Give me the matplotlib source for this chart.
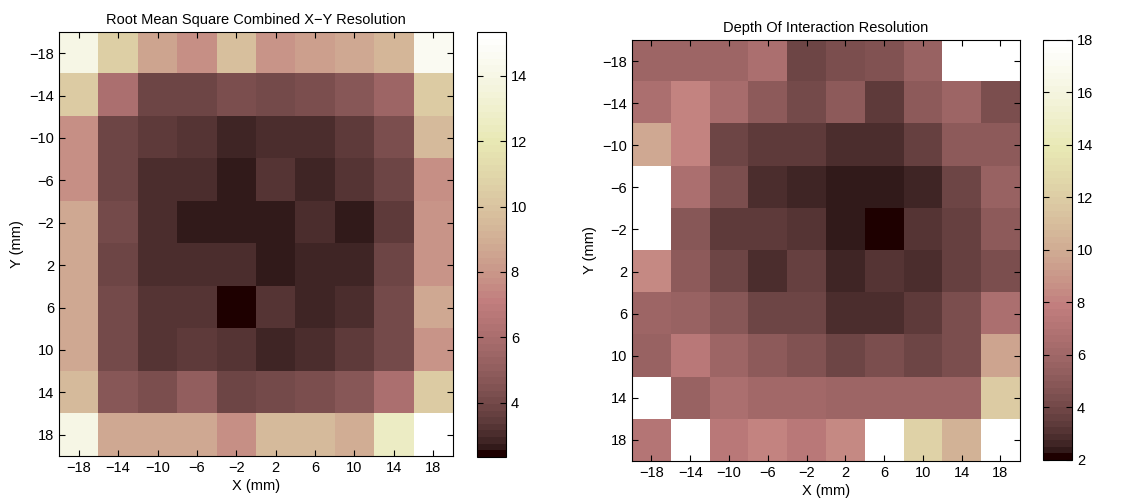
import numpy as np
import matplotlib
matplotlib.use("Agg")
import matplotlib.pyplot as plt

plt.rcParams['font.family'] = ['Liberation Sans', 'DejaVu Sans']
plt.rcParams['font.size'] = 10.5

# grid centres (mm)
x_pos = [-18, -14, -10, -6, -2, 2, 6, 10, 14, 18]
y_pos = [-18, -14, -10, -6, -2, 2, 6, 10, 14, 18]

# RMS combined X-Y resolution, rows = Y (-18 .. 18), cols = X (-18 .. 18)
xy_res = [
    [14.1, 10.5, 8.5, 7.8, 9.8, 8.0, 8.4, 8.7, 9.3, 14.6],
    [10.4, 6.1, 3.97, 3.87, 4.28, 4.07, 4.28, 4.68, 5.49, 10.3],
    [7.7, 3.97, 3.47, 3.26, 2.86, 3.06, 3.06, 3.47, 4.28, 9.6],
    [7.7, 3.87, 3.06, 3.06, 2.65, 3.26, 2.86, 3.26, 3.87, 7.7],
    [8.7, 4.07, 3.06, 2.65, 2.65, 2.65, 3.06, 2.65, 3.47, 7.9],
    [8.8, 3.87, 3.06, 3.06, 3.06, 2.65, 2.86, 2.86, 3.87, 7.9],
    [8.7, 4.07, 3.26, 3.26, 2.35, 3.26, 2.86, 3.06, 4.07, 8.7],
    [8.7, 4.07, 3.26, 3.47, 3.26, 2.86, 3.06, 3.47, 4.07, 7.9],
    [9.6, 4.68, 4.28, 5.09, 3.97, 4.07, 4.28, 4.68, 6.1, 10.3],
    [14.1, 8.7, 8.7, 8.7, 7.7, 9.6, 9.6, 9.0, 12.6, 15.33],
]

# depth of interaction resolution
doi_res = [
    [5.88, 5.88, 5.88, 6.62, 3.88, 4.38, 4.62, 5.62, 18.0, 18.0],
    [6.62, 8.2, 6.38, 5.0, 4.12, 5.12, 3.38, 5.12, 5.75, 4.38],
    [9.8, 8.2, 3.88, 3.38, 3.38, 2.88, 2.88, 3.5, 5.0, 5.0],
    [18.0, 6.62, 4.38, 2.88, 2.62, 2.38, 2.38, 2.62, 3.88, 5.62],
    [18.0, 4.88, 3.38, 3.38, 3.12, 2.38, 2.0, 3.12, 3.5, 5.0],
    [8.45, 5.0, 3.88, 2.88, 3.5, 2.62, 3.12, 2.88, 3.5, 4.38],
    [5.88, 5.62, 4.88, 3.88, 3.88, 2.88, 2.88, 3.38, 4.38, 6.62],
    [5.62, 7.25, 5.75, 5.0, 4.62, 3.88, 4.38, 3.88, 4.38, 9.7],
    [18.0, 5.62, 6.62, 6.12, 6.12, 5.75, 5.75, 5.75, 5.88, 11.9],
    [7.0, 18.0, 7.25, 8.2, 7.25, 8.45, 18.0, 12.3, 10.4, 18.0],
]

cmap = plt.get_cmap('pink').resampled(64)

fig = plt.figure(figsize=(11.37, 4.99), dpi=100)


def draw_map(ax_rect, cb_rect, data, title, vmin, vmax, cticks):
    ax = fig.add_axes(ax_rect)
    data = np.array(data)
    step = x_pos[1] - x_pos[0]
    ext = [x_pos[0] - step / 2, x_pos[-1] + step / 2,
           y_pos[-1] + step / 2, y_pos[0] - step / 2]
    im = ax.imshow(data, cmap=cmap, vmin=vmin, vmax=vmax, extent=ext,
                   aspect='auto', interpolation='nearest', origin='upper')
    ax.set_xticks(x_pos)
    ax.set_yticks(y_pos)
    ax.tick_params(direction='in', top=True, right=True, length=4)
    ax.set_xlabel('X (mm)', labelpad=3)
    ax.set_ylabel('Y (mm)')
    ax.set_title(title, fontsize=10.5, pad=6)

    cax = fig.add_axes(cb_rect)
    cb = fig.colorbar(im, cax=cax, ticks=cticks)
    cb.ax.tick_params(direction='in', left=True, right=True, length=4)
    cb.outline.set_linewidth(0.8)
    return ax


draw_map([0.0519, 0.0862, 0.3465, 0.8497], [0.4195, 0.0842, 0.0255, 0.8517],
         xy_res, 'Root Mean Square Combined X\u2212Y Resolution',
         np.min(xy_res), np.max(xy_res), [4, 6, 8, 10, 12, 14])

draw_map([0.5558, 0.0762, 0.3412, 0.8437], [0.9173, 0.0782, 0.0255, 0.8417],
         doi_res, 'Depth Of Interaction Resolution',
         2, 18, [2, 4, 6, 8, 10, 12, 14, 16, 18])

fig.savefig('out.png', dpi=100)
